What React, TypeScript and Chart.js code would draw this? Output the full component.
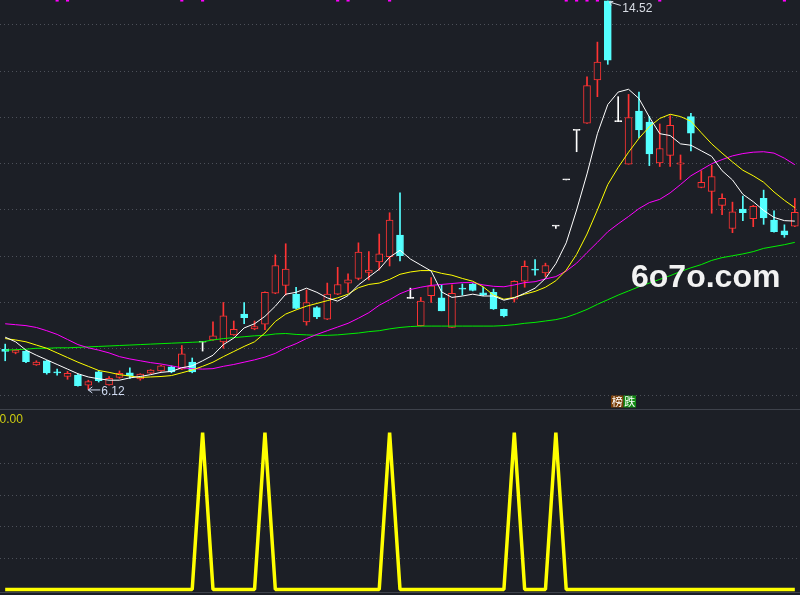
import React, { useEffect, useRef } from "react";
import { Chart, registerables } from "chart.js";

Chart.register(...registerables);

const BG = "#1c1f26";
const GRID = "#4c5059";
const UP = "#ff3333";
const DOWN = "#54ffff";
const FLAT = "#ffffff";

// Daily candles (77 sessions)
const openP = [
  6.99, 6.92, 6.95, 6.65, 6.74, 6.50, 6.40, 6.43, 6.21, 6.50,
  6.22, 6.38, 6.48, 6.35, 6.47, 6.52, 6.61, 6.56, 6.71, 7.14,
  7.19, 7.15, 7.30, 7.75, 7.43, 7.53, 8.20, 8.37, 8.18, 7.58,
  7.89, 7.64, 8.18, 8.42, 8.52, 8.65, 8.88, 8.99, 9.46, 8.09,
  7.50, 8.15, 8.10, 7.46, 8.31, 8.40, 8.21, 8.22, 7.85, 8.07,
  8.46, 8.72, 8.64, 9.65, 10.65, 11.72, 11.88, 12.81, 14.52, 11.91,
  10.99, 12.14, 11.90, 11.02, 11.18, 10.99, 12.02, 10.49, 10.40, 10.10,
  9.60, 10.02, 9.81, 10.25, 9.78, 9.55, 9.65,
];
const highP = [
  7.10, 6.98, 6.96, 6.74, 6.75, 6.56, 6.51, 6.45, 6.32, 6.53,
  6.40, 6.52, 6.59, 6.46, 6.55, 6.64, 6.63, 7.07, 6.80, 7.14,
  7.58, 8.00, 7.60, 8.00, 7.60, 8.23, 9.03, 9.27, 8.33, 8.27,
  7.91, 8.42, 8.76, 8.62, 9.29, 9.10, 9.48, 9.94, 10.37, 8.31,
  8.11, 8.54, 8.38, 8.38, 8.40, 8.41, 8.33, 8.29, 7.86, 8.47,
  8.90, 8.93, 8.85, 9.65, 10.65, 11.72, 12.88, 13.63, 14.52, 12.45,
  12.50, 12.55, 12.02, 11.86, 12.04, 11.19, 12.09, 10.85, 10.97, 10.35,
  10.17, 10.30, 10.10, 10.43, 9.98, 9.68, 10.25,
];
const lowP = [
  6.74, 6.89, 6.70, 6.64, 6.45, 6.43, 6.34, 6.19, 6.12, 6.28,
  6.21, 6.36, 6.36, 6.32, 6.46, 6.51, 6.48, 6.55, 6.48, 6.95,
  7.18, 7.01, 7.29, 7.54, 7.41, 7.41, 8.19, 8.16, 7.86, 7.51,
  7.65, 7.63, 8.17, 8.22, 8.49, 8.49, 8.70, 8.79, 8.90, 8.09,
  7.49, 8.00, 7.82, 7.46, 8.16, 8.25, 8.15, 7.85, 7.69, 8.01,
  8.33, 8.59, 8.56, 9.60, 10.65, 11.26, 11.87, 12.45, 13.15, 11.91,
  10.99, 11.56, 10.96, 10.94, 10.94, 10.66, 11.28, 10.48, 9.93, 9.90,
  9.51, 9.77, 9.64, 9.69, 9.52, 9.41, 9.64,
];
const closeP = [
  6.94, 6.97, 6.72, 6.71, 6.48, 6.48, 6.47, 6.20, 6.29, 6.31,
  6.36, 6.47, 6.41, 6.45, 6.54, 6.63, 6.50, 6.89, 6.50, 7.14,
  7.28, 7.71, 7.42, 7.67, 7.48, 8.22, 8.80, 8.72, 7.87, 8.00,
  7.69, 8.18, 8.39, 8.49, 9.09, 8.70, 9.05, 9.78, 9.01, 8.09,
  8.03, 8.36, 7.82, 8.20, 8.29, 8.26, 8.16, 7.86, 7.71, 8.46,
  8.78, 8.70, 8.80, 9.65, 10.65, 11.72, 12.69, 13.20, 13.24, 11.91,
  12.00, 11.73, 11.21, 11.33, 11.83, 11.02, 11.66, 10.60, 10.72, 10.25,
  9.96, 9.94, 10.08, 9.83, 9.53, 9.46, 9.95,
];

// Moving averages
const ma5 = [
  7.25, 7.15, 6.97, 6.86, 6.76, 6.66, 6.56, 6.46, 6.39, 6.35,
  6.32, 6.32, 6.37, 6.40, 6.44, 6.49, 6.51, 6.59, 6.63, 6.74,
  6.86, 7.09, 7.23, 7.45, 7.54, 7.70, 7.92, 8.18, 8.22, 8.31,
  8.22, 8.10, 8.03, 8.15, 8.38, 8.55, 8.72, 8.98, 9.13, 8.94,
  8.81, 8.68, 8.23, 8.11, 8.14, 8.18, 8.14, 8.14, 8.05, 8.10,
  8.20, 8.31, 8.52, 8.84, 9.29, 10.00, 10.78, 11.65, 12.28, 12.55,
  12.61, 12.41, 12.01, 11.65, 11.61, 11.43, 11.40, 11.28, 11.16, 10.85,
  10.65, 10.34, 10.18, 9.99, 9.84, 9.77, 9.76,
];
const ma10 = [
  7.22, 7.19, 7.15, 7.08, 7.01, 6.91, 6.81, 6.71, 6.62, 6.53,
  6.49, 6.44, 6.41, 6.38, 6.39, 6.40, 6.42, 6.48, 6.54, 6.62,
  6.71, 6.83, 6.94, 7.05, 7.15, 7.34, 7.59, 7.75, 7.84, 7.92,
  7.98, 8.04, 8.10, 8.18, 8.32, 8.39, 8.42, 8.50, 8.61, 8.66,
  8.69, 8.69, 8.63, 8.59, 8.52, 8.46, 8.34, 8.16, 8.07, 8.11,
  8.18, 8.24, 8.33, 8.47, 8.70, 9.04, 9.48, 10.00, 10.55, 10.92,
  11.25, 11.55, 11.80, 11.98, 12.07, 12.02, 11.92, 11.67, 11.43, 11.23,
  11.04, 10.86, 10.74, 10.60, 10.39, 10.21, 10.05,
];
const ma20 = [
  7.54, 7.52, 7.50, 7.46, 7.39, 7.31, 7.20, 7.09, 7.02, 6.97,
  6.91, 6.83, 6.78, 6.74, 6.70, 6.67, 6.63, 6.59, 6.57, 6.56,
  6.57, 6.62, 6.66, 6.71, 6.76, 6.82, 6.90, 7.02, 7.11, 7.22,
  7.31, 7.39, 7.47, 7.55, 7.66, 7.78, 7.94, 8.06, 8.19, 8.28,
  8.33, 8.37, 8.39, 8.41, 8.43, 8.43, 8.38, 8.35, 8.34, 8.38,
  8.43, 8.45, 8.51, 8.56, 8.68, 8.85, 9.08, 9.30, 9.53, 9.70,
  9.86, 10.03, 10.16, 10.23, 10.37, 10.55, 10.74, 10.87, 11.00, 11.09,
  11.17, 11.22, 11.25, 11.26, 11.23, 11.12, 10.98,
];
const ma60 = [
  6.97, 6.98, 6.99, 7.01, 7.01, 7.02, 7.02, 7.03, 7.04, 7.05,
  7.06, 7.07, 7.08, 7.09, 7.10, 7.11, 7.12, 7.13, 7.14, 7.15,
  7.19, 7.22, 7.24, 7.26, 7.28, 7.29, 7.32, 7.33, 7.31, 7.30,
  7.29, 7.29, 7.30, 7.32, 7.34, 7.37, 7.39, 7.43, 7.46, 7.48,
  7.49, 7.49, 7.49, 7.49, 7.49, 7.49, 7.49, 7.49, 7.50, 7.52,
  7.55, 7.57, 7.60, 7.63, 7.68, 7.76, 7.85, 7.96, 8.06, 8.16,
  8.25, 8.34, 8.42, 8.50, 8.58, 8.67, 8.75, 8.82, 8.91, 8.97,
  9.01, 9.05, 9.10, 9.17, 9.21, 9.25, 9.30,
];

// Indicator pane signal (0 / 1)
const signal = [
  0, 0, 0, 0, 0, 0, 0, 0, 0, 0,
  0, 0, 0, 0, 0, 0, 0, 0, 0, 1,
  0, 0, 0, 0, 0, 1, 0, 0, 0, 0,
  0, 0, 0, 0, 0, 0, 0, 1, 0, 0,
  0, 0, 0, 0, 0, 0, 0, 0, 0, 1,
  0, 0, 0, 1, 0, 0, 0, 0, 0, 0,
  0, 0, 0, 0, 0, 0, 0, 0, 0, 0,
  0, 0, 0, 0, 0, 0, 0,
];

// Sessions flagged with a magenta mark at the top edge
const markDays = [5, 6, 17, 19, 32, 33, 37, 54, 55, 56, 57, 63, 75];

const priceTickStep = 1;
const signalTicks = [0.2, 0.4, 0.6, 0.8];
const PRICE_MIN = 5.6973;
const PRICE_MAX = 14.5405;
const SIG_MIN = -0.035;
const SIG_MAX = 1.1497;

const labels = closeP.map((_, i) => String(i + 1));

const candleColor = (i: number) =>
  closeP[i] > openP[i] ? UP : closeP[i] < openP[i] ? DOWN : FLAT;
const bodyFill = (i: number) => (closeP[i] > openP[i] ? BG : candleColor(i));

const FONT = '"Liberation Sans", Arial, sans-serif';

const upperText = {
  id: "upperText",
  afterDraw(chart: any) {
    const ctx = chart.ctx;
    const xs = chart.scales.x;
    const ys = chart.scales.y;
    ctx.save();
    // highest price label
    let hi = 0;
    let lo = 0;
    highP.forEach((v, i) => {
      if (v > highP[hi]) hi = i;
    });
    lowP.forEach((v, i) => {
      if (v < lowP[lo]) lo = i;
    });
    const hx = xs.getPixelForValue(hi);
    const hy = ys.getPixelForValue(highP[hi]);
    ctx.strokeStyle = "#d8dce4";
    ctx.lineWidth = 1;
    ctx.beginPath();
    ctx.moveTo(hx + 13, hy + 4.5);
    ctx.lineTo(hx + 1.5, hy + 1);
    ctx.moveTo(hx + 1.5, hy + 1);
    ctx.lineTo(hx + 5.5, hy + 0.5);
    ctx.moveTo(hx + 1.5, hy + 1);
    ctx.lineTo(hx + 3.5, hy + 4.5);
    ctx.stroke();
    ctx.fillStyle = "#d8dce4";
    ctx.font = "12px " + FONT;
    ctx.textBaseline = "alphabetic";
    ctx.fillText(highP[hi].toFixed(2), hx + 14.5, hy + 11.5);

    // lowest price label
    const lx = xs.getPixelForValue(lo);
    const ly = ys.getPixelForValue(lowP[lo]);
    ctx.strokeStyle = "#cfdaf0";
    ctx.beginPath();
    ctx.moveTo(lx, ly + 0.5);
    ctx.lineTo(lx + 12, ly + 0.5);
    ctx.moveTo(lx, ly + 0.5);
    ctx.lineTo(lx + 4, ly - 2.5);
    ctx.moveTo(lx, ly + 0.5);
    ctx.lineTo(lx + 4, ly + 3.5);
    ctx.stroke();
    ctx.fillStyle = "#cfdaf0";
    ctx.fillText(lowP[lo].toFixed(2), lx + 13, ly + 5.5);

    // watermark
    ctx.fillStyle = "#f2f2f2";
    ctx.font = "bold 32px " + FONT;
    ctx.fillText("6o7o.com", 631, 286.5);

    // tag
    ctx.fillStyle = "#7a3f08";
    ctx.fillRect(611, 395.5, 12.5, 12);
    ctx.fillStyle = "#138a13";
    ctx.fillRect(623.5, 395.5, 12.5, 12);
    ctx.fillStyle = "#ffffff";
    ctx.font = '11px "Noto Sans CJK SC", sans-serif';
    ctx.textAlign = "center";
    ctx.textBaseline = "middle";
    ctx.fillText("榜", 617.25, 401.5);
    ctx.fillText("跌", 629.75, 401.5);
    ctx.restore();
  },
};

const lowerText = {
  id: "lowerText",
  afterDraw(chart: any) {
    const ctx = chart.ctx;
    const w = chart.width;
    ctx.save();
    ctx.strokeStyle = "#3e424b";
    ctx.lineWidth = 1;
    ctx.beginPath();
    ctx.moveTo(0, 0.5);
    ctx.lineTo(w, 0.5);
    ctx.moveTo(0, 183.5);
    ctx.lineTo(w, 183.5);
    ctx.stroke();
    ctx.fillStyle = "#cccc10";
    ctx.font = "12px " + FONT;
    ctx.textBaseline = "alphabetic";
    ctx.fillText("0.00", -0.5, 13.5);
    ctx.restore();
  },
};

export default function App() {
  const topRef = useRef<HTMLCanvasElement | null>(null);
  const botRef = useRef<HTMLCanvasElement | null>(null);

  useEffect(() => {
    document.body.style.margin = "0";
    document.body.style.background = BG;
    if (!topRef.current || !botRef.current) return;

    const xScale = {
      type: "category" as const,
      offset: true,
      display: false,
      grid: { display: false },
    };

    const top = new Chart(topRef.current, {
      type: "bar",
      data: {
        labels,
        datasets: [
          {
            type: "line",
            label: "MA5",
            data: ma5,
            borderColor: "#ffffff",
            borderWidth: 1,
            pointRadius: 0,
            tension: 0,
            order: 0,
          },
          {
            type: "line",
            label: "MA10",
            data: ma10,
            borderColor: "#ffff00",
            borderWidth: 1,
            pointRadius: 0,
            tension: 0,
            order: 0,
          },
          {
            type: "line",
            label: "MA20",
            data: ma20,
            borderColor: "#ff00ff",
            borderWidth: 1,
            pointRadius: 0,
            tension: 0,
            order: 0,
          },
          {
            type: "line",
            label: "MA60",
            data: ma60,
            borderColor: "#00f000",
            borderWidth: 1,
            pointRadius: 0,
            tension: 0,
            order: 0,
          },
          {
            type: "line",
            label: "marks",
            data: labels.map((_, i) => (markDays.includes(i) ? PRICE_MAX : null)),
            showLine: false,
            pointStyle: "rect",
            pointRadius: 2.2,
            pointBorderWidth: 0,
            pointBackgroundColor: "#ff00ff",
            order: 0,
          },
          {
            type: "bar",
            label: "body",
            data: openP.map((o, i) => [o, closeP[i]]),
            backgroundColor: labels.map((_, i) => bodyFill(i)),
            borderColor: labels.map((_, i) => candleColor(i)),
            borderWidth: 1,
            borderSkipped: false,
            barThickness: 7,
            minBarLength: 1,
            grouped: false,
            order: 1,
          },
          {
            type: "bar",
            label: "wick",
            data: lowP.map((l, i) => [l, highP[i]]),
            backgroundColor: labels.map((_, i) => candleColor(i)),
            borderWidth: 0,
            barThickness: 1,
            grouped: false,
            order: 2,
          },
        ] as any,
      },
      options: {
        responsive: false,
        animation: false,
        events: [],
        layout: { padding: 0, autoPadding: false } as any,
        plugins: { legend: { display: false }, tooltip: { enabled: false } },
        scales: {
          x: xScale,
          y: {
            type: "linear",
            min: PRICE_MIN,
            max: PRICE_MAX,
            ticks: { display: false, stepSize: priceTickStep, includeBounds: false },
            grid: { color: GRID, lineWidth: 1, drawTicks: false },
            border: { display: false, dash: [1, 3] },
          },
        },
      } as any,
      plugins: [upperText],
    });

    const bottom = new Chart(botRef.current, {
      type: "line",
      data: {
        labels,
        datasets: [
          {
            label: "signal",
            data: signal,
            borderColor: "#ffff00",
            borderWidth: 3.5,
            pointRadius: 0,
            tension: 0,
            borderJoinStyle: "bevel",
          },
        ] as any,
      },
      options: {
        responsive: false,
        animation: false,
        events: [],
        layout: { padding: 0, autoPadding: false } as any,
        plugins: { legend: { display: false }, tooltip: { enabled: false } },
        scales: {
          x: xScale,
          y: {
            type: "linear",
            min: SIG_MIN,
            max: SIG_MAX,
            afterBuildTicks: (s: any) => {
              s.ticks = signalTicks.map((v) => ({ value: v }));
            },
            ticks: { display: false },
            grid: { color: GRID, lineWidth: 1, drawTicks: false },
            border: { display: false, dash: [1, 3] },
          },
        },
      } as any,
      plugins: [lowerText],
    });

    return () => {
      top.destroy();
      bottom.destroy();
    };
  }, []);

  return (
    <div style={{ width: 800, height: 595, background: BG, overflow: "hidden" }}>
      <canvas ref={topRef} width={800} height={409} style={{ display: "block", background: BG }} />
      <canvas ref={botRef} width={800} height={186} style={{ display: "block", background: BG }} />
    </div>
  );
}
